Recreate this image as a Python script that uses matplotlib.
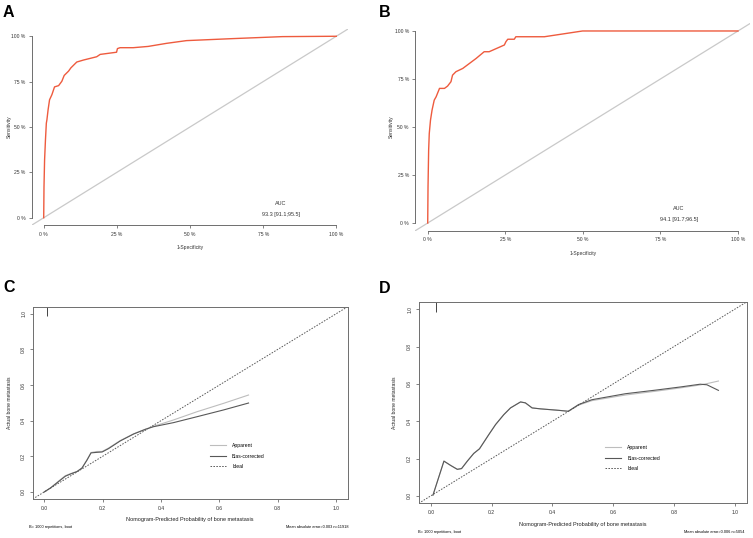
import numpy as np
import matplotlib
matplotlib.use("Agg")
import matplotlib.pyplot as plt
from matplotlib.ticker import FuncFormatter

plt.rcParams['font.family'] = ['Liberation Sans', 'DejaVu Sans']

# === ROC curve values (1-Specificity %, Sensitivity %) ===
roc_a_fpr = [0, 0.1, 0.3, 0.6, 0.9, 1.1, 1.5, 2.0, 2.8, 3.7, 5.1, 6.2, 7.0, 8.5, 9.3,
             11.3, 13.6, 18.1, 19.3, 24.9, 25.2, 26.1, 30.6, 35.7, 42.0, 48.8, 64.6, 81.6, 100]
roc_a_tpr = [0, 17, 31.8, 42.9, 52.1, 54, 59.5, 65, 67.8, 72.1, 72.8, 75.2, 78.4, 80.8, 82.6,
             85.8, 86.9, 88.7, 90, 91.2, 93.2, 93.7, 93.7, 94.4, 96.1, 97.6, 98.7, 99.8, 100]
roc_a_auc = "93.3 [91.1;95.5]"

roc_b_fpr = [0, 0.1, 0.3, 0.5, 0.9, 1.4, 2.1, 2.7, 3.8, 5.4, 6.4, 7.5, 8.0, 9.1, 11.3,
             15.6, 18.2, 19.8, 24.7, 25.2, 25.8, 27.9, 28.4, 37.6, 49.9, 100]
roc_b_tpr = [0, 18.8, 37.9, 46.6, 53.6, 58.8, 64, 65.7, 70.1, 70.1, 71.3, 73.6, 77, 78.8, 80.5,
             85.7, 89.2, 89.2, 92.7, 94.4, 95.7, 95.7, 97, 97, 100, 100]
roc_b_auc = "94.1 [91.7;96.5]"

roc_ticks = [0, 25, 50, 75, 100]

# === Calibration curve values ===
cal_c_x = [0, 0.021, 0.055, 0.072, 0.089, 0.112, 0.129, 0.146, 0.16, 0.18, 0.198, 0.22,
           0.26, 0.306, 0.346, 0.374, 0.443, 0.523, 0.614, 0.7]
cal_c_apparent = [0, 0.022, 0.069, 0.091, 0.102, 0.115, 0.134, 0.18, 0.221, 0.227, 0.227, 0.246,
                  0.288, 0.326, 0.352, 0.368, 0.404, 0.45, 0.497, 0.544]
cal_c_bias = [0, 0.022, 0.066, 0.088, 0.1, 0.114, 0.134, 0.178, 0.219, 0.222, 0.224, 0.243,
              0.286, 0.325, 0.351, 0.366, 0.389, 0.422, 0.46, 0.499]
cal_c_spike_x = [0.009]
cal_c_spike_h = [0.05]
cal_c_note = "Mean absolute error=0.003 n=11918"

cal_d_x = [0.007, 0.043, 0.065, 0.087, 0.101, 0.12, 0.141, 0.16, 0.191, 0.213, 0.24, 0.262,
           0.295, 0.311, 0.333, 0.36, 0.421, 0.452, 0.486, 0.53, 0.64, 0.738, 0.82, 0.886,
           0.908, 0.946]
cal_d_apparent = [0.004, 0.186, 0.163, 0.142, 0.146, 0.186, 0.227, 0.252, 0.329, 0.382, 0.435, 0.471,
                  0.503, 0.498, 0.471, 0.466, 0.458, 0.453, 0.486, 0.51, 0.54, 0.56, 0.578, 0.594,
                  0.601, 0.615]
cal_d_bias = [0.004, 0.186, 0.163, 0.142, 0.146, 0.186, 0.227, 0.252, 0.329, 0.382, 0.435, 0.471,
              0.503, 0.498, 0.471, 0.466, 0.458, 0.453, 0.489, 0.515, 0.547, 0.566, 0.583, 0.598,
              0.595, 0.565]
cal_d_spike_x = [0.016]
cal_d_spike_h = [0.054]
cal_d_note = "Mean absolute error=0.006 n=5054"

cal_ticks = [0.0, 0.2, 0.4, 0.6, 0.8, 1.0]
legend_labels = ["Apparent", "Bias-corrected", "Ideal"]

W, H = 753, 538
SMALL = 3.6
roc_color = "#EE5B3E"
axis_grey = "#6E6E6E"

fig = plt.figure(figsize=(W / 100, H / 100), dpi=100)


def box(x0, y0, x1, y1):
    # pixel box (top-left origin) -> figure rect
    return [x0 / W, 1 - y1 / H, (x1 - x0) / W, (y1 - y0) / H]


def ftext(x, y, s, **kw):
    fig.text(x / W, 1 - y / H, s, **kw)


def roc_panel(rect, fpr, tpr, auc):
    ax = fig.add_axes(rect)
    ax.set_xlim(-4, 104)
    ax.set_ylim(-4, 104)
    ax.plot([-4, 104], [-4, 104], color="#C9C9C9", lw=0.9, zorder=1)
    ax.plot(fpr, tpr, color=roc_color, lw=1.0, zorder=2)
    for s in ["top", "right"]:
        ax.spines[s].set_visible(False)
    for s in ["left", "bottom"]:
        ax.spines[s].set_bounds(0, 100)
        ax.spines[s].set_color(axis_grey)
        ax.spines[s].set_linewidth(0.7)
    ax.set_xticks(roc_ticks)
    ax.set_yticks(roc_ticks)
    fmt = FuncFormatter(lambda v, p: f"{int(v)} %")
    ax.xaxis.set_major_formatter(fmt)
    ax.yaxis.set_major_formatter(fmt)
    ax.tick_params(length=2.2, width=0.6, color=axis_grey, labelsize=SMALL, pad=2.5,
                   labelcolor="#333333")
    ax.set_xlabel("1-Specificity", fontsize=SMALL, color="#333333", labelpad=6)
    ax.set_ylabel("Sensitivity", fontsize=SMALL, color="#333333")
    ax.yaxis.set_label_coords(-0.064, 0.5)
    ax.text(81, 7.8, "AUC", fontsize=SMALL + 0.4, ha="center", va="center", color="#333333")
    ax.text(81, 1.7, auc, fontsize=SMALL + 0.4, ha="center", va="center", color="#333333")
    return ax


def cal_panel(rect, x, apparent, bias, spike_x, spike_h, leg_anchor):
    ax = fig.add_axes(rect)
    ax.set_xlim(-0.04, 1.04)
    ax.set_ylim(-0.04, 1.04)
    la, = ax.plot(x, apparent, color="#BDBDBD", lw=0.8)
    lb, = ax.plot(x, bias, color="#585858", lw=0.8)
    li, = ax.plot([-0.04, 1.04], [-0.04, 1.04], color="#5A5A5A", lw=0.7,
                  linestyle=(0, (1.6, 1.4)))
    ax.vlines(spike_x, [1.04 - h for h in spike_h], 1.04, color="#444444", lw=0.7)
    for s in ax.spines.values():
        s.set_color(axis_grey)
        s.set_linewidth(0.7)
    ax.set_xticks(cal_ticks)
    ax.set_yticks(cal_ticks)
    ax.xaxis.set_major_formatter(FuncFormatter(lambda v, p: f"{v:.1f}"))
    ax.yaxis.set_major_formatter(FuncFormatter(lambda v, p: f"{v:.1f}"))
    ax.tick_params(length=2.2, width=0.6, color=axis_grey, labelsize=SMALL, pad=2.5,
                   labelcolor="#333333")
    for lab in ax.get_yticklabels():
        lab.set_rotation(90)
        lab.set_va("center")
    ax.set_xlabel("Nomogram-Predicted Probability of bone metastasis", fontsize=SMALL + 0.4,
                  color="#222222", labelpad=5)
    ax.set_ylabel("Actual bone metastasis", fontsize=SMALL, color="#222222")
    ax.yaxis.set_label_coords(-0.066, 0.5)
    ax.legend([la, lb, li], legend_labels, loc="center left", bbox_to_anchor=leg_anchor,
              frameon=False, fontsize=SMALL, handlelength=3.2, handletextpad=1.2,
              labelspacing=1.1, borderpad=0, borderaxespad=0)
    return ax


roc_panel(box(32, 29, 348, 225), roc_a_fpr, roc_a_tpr, roc_a_auc)
roc_panel(box(415.3, 23.3, 750.4, 230.7), roc_b_fpr, roc_b_tpr, roc_b_auc)
cal_panel(box(32.7, 306.7, 347.7, 499), cal_c_x, cal_c_apparent, cal_c_bias,
          cal_c_spike_x, cal_c_spike_h, (0.563, 0.223))
cal_panel(box(418.7, 301.7, 747, 503.3), cal_d_x, cal_d_apparent, cal_d_bias,
          cal_d_spike_x, cal_d_spike_h, (0.568, 0.224))

# panel letters
for lx, ly, letter in [(3, 12.5, "A"), (379, 12.5, "B"), (3, 288, "C"), (379, 288.5, "D")]:
    ftext(lx, ly, letter, fontsize=11.5, fontweight="bold", va="center", ha="left")

# bootstrap notes under calibration plots
ftext(29.3, 527.3, "B= 1000 repetitions, boot", fontsize=2.8, va="center", ha="left")
ftext(348.3, 527.3, cal_c_note, fontsize=2.8, va="center", ha="right")
ftext(417.7, 532.3, "B= 1000 repetitions, boot", fontsize=2.8, va="center", ha="left")
ftext(744.3, 532.3, cal_d_note, fontsize=2.8, va="center", ha="right")

fig.savefig("out.png", dpi=100)
